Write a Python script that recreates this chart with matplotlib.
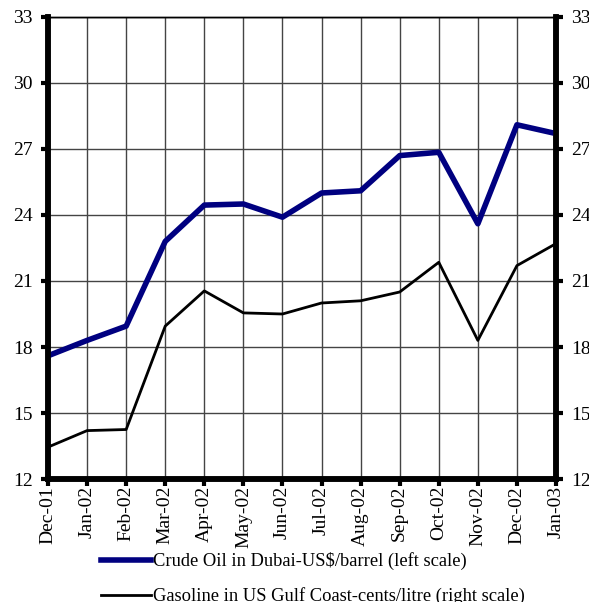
import matplotlib.pyplot as plt

# data
months = ["Dec-01", "Jan-02", "Feb-02", "Mar-02", "Apr-02", "May-02", "Jun-02",
          "Jul-02", "Aug-02", "Sep-02", "Oct-02", "Nov-02", "Dec-02", "Jan-03"]
crude = [17.6, 18.3, 18.95, 22.8, 24.45, 24.5, 23.9, 25.0, 25.1, 26.7, 26.85, 23.6, 28.1, 27.7]
gasoline = [13.45, 14.2, 14.25, 18.95, 20.55, 19.55, 19.5, 20.0, 20.1, 20.5, 21.85, 18.3, 21.7, 22.7]
yticks = [12, 15, 18, 21, 24, 27, 30, 33]

plt.rcParams['font.family'] = ['Liberation Serif', 'DejaVu Serif']

fig = plt.figure(figsize=(5.89, 6.02), dpi=100)
ax = fig.add_axes([0.0815, 0.2043, 0.8625, 0.7675])
ax2 = ax.twinx()

x = list(range(len(months)))
l1, = ax.plot(x, crude, color="#000080", lw=4, zorder=5)
l2, = ax2.plot(x, gasoline, color="black", lw=2, zorder=5)

for a in (ax, ax2):
    a.set_ylim(12, 33)
    a.set_xlim(0, len(months) - 1)
    a.set_yticks(yticks)
ax.set_yticklabels([str(t) for t in yticks], fontsize=14)
ax2.set_yticklabels([str(t) for t in yticks], fontsize=14)

ax.set_xticks(x)
ax.set_xticklabels(months, rotation=90, fontsize=14)
ax.grid(True, color="#444444", lw=1)
ax.set_axisbelow(True)

ax.tick_params(axis="y", direction="out", length=5, width=3, pad=6)
ax.tick_params(axis="x", direction="out", length=5, width=3, pad=0)
ax2.tick_params(axis="y", direction="out", length=5, width=3, pad=6)

for a in (ax, ax2):
    a.spines["left"].set_linewidth(4)
    a.spines["right"].set_linewidth(4)
    a.spines["bottom"].set_linewidth(4)
    a.spines["top"].set_linewidth(1)

fig.legend([l1, l2],
           ["Crude Oil in Dubai-US$/barrel (left scale)",
            "Gasoline in US Gulf Coast-cents/litre (right scale)"],
           loc="upper left", bbox_to_anchor=(0.172, 0.083), frameon=False,
           fontsize=13.3, handlelength=2.7, handletextpad=0.12, labelspacing=0.92,
           borderaxespad=0, borderpad=0)

fig.savefig("out.png", dpi=100)
